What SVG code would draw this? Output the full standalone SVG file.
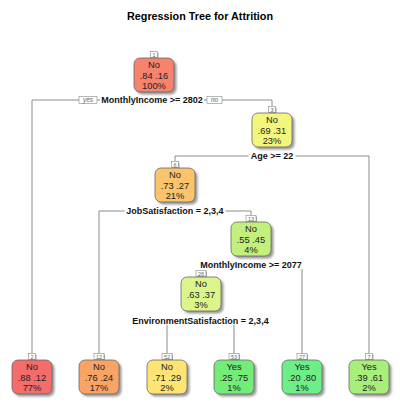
<svg xmlns="http://www.w3.org/2000/svg" width="400" height="405" viewBox="0 0 400 405">
<defs>
<filter id="sh" x="-20%" y="-20%" width="150%" height="150%"><feGaussianBlur stdDeviation="0.9"/></filter>
<style>
.title{font-family:"Liberation Sans",Arial,sans-serif;font-size:10.8px;font-weight:bold;fill:#000;text-anchor:middle}
.nt{font-family:"Liberation Sans",Arial,sans-serif;font-size:9.3px;fill:#222;text-anchor:middle}
.split{font-family:"Liberation Sans",Arial,sans-serif;font-size:9px;font-weight:bold;fill:#111;text-anchor:middle}
.lab{font-family:"Liberation Sans",Arial,sans-serif;font-size:5.5px;fill:#666;text-anchor:middle}
.yn{font-family:"Liberation Sans",Arial,sans-serif;font-size:6.5px;font-style:italic;fill:#666;text-anchor:middle}
.box{stroke:#666;stroke-width:0.8}
.shd{fill:#999;filter:url(#sh)}
.lbox{fill:#fff;stroke:#888;stroke-width:0.6}
.lshd{fill:#aaa}
.con line{stroke:#808080;stroke-width:0.9;fill:none}
</style>
</defs>
<rect width="400" height="405" fill="#fff"/>
<text class="title" x="200" y="20">Regression Tree for Attrition</text>

<g id="connectors" class="con">
<line x1="32" y1="100" x2="79" y2="100"/>
<line x1="97" y1="100" x2="100" y2="100"/>
<line x1="204" y1="100" x2="207" y2="100"/>
<line x1="222" y1="100" x2="272" y2="100"/>
<line x1="32" y1="100" x2="32" y2="353.5"/>
<line x1="272" y1="100" x2="272" y2="106"/>
<line x1="175" y1="156" x2="248.5" y2="156"/>
<line x1="295.5" y1="156" x2="369" y2="156"/>
<line x1="175" y1="156" x2="175" y2="161"/>
<line x1="369" y1="156" x2="369" y2="353.5"/>
<line x1="99" y1="211" x2="124.5" y2="211"/>
<line x1="225.5" y1="211" x2="251" y2="211"/>
<line x1="99" y1="211" x2="99" y2="353.5"/>
<line x1="251" y1="211" x2="251" y2="215"/>
<line x1="302" y1="269" x2="302" y2="353.5"/>
<line x1="167" y1="325" x2="167" y2="353.5"/>
<line x1="234" y1="325" x2="234" y2="353.5"/>
</g>

<g id="split-labels">
<rect class="lbox" x="79" y="96.5" width="18" height="7"/>
<text class="yn" x="88" y="102.2">yes</text>
<rect class="lbox" x="207" y="96.5" width="15" height="7"/>
<text class="yn" x="214.5" y="102.2">no</text>
<text class="split" x="152" y="103.2">MonthlyIncome &gt;= 2802</text>
<text class="split" x="272" y="159.2">Age &gt;= 22</text>
<text class="split" x="175" y="214.2">JobSatisfaction = 2,3,4</text>
<text class="split" x="251" y="268.2">MonthlyIncome &gt;= 2077</text>
<text class="split" x="200.5" y="324.2">EnvironmentSatisfaction = 2,3,4</text>
</g>

<g id="node1">
<rect class="lshd" x="151.5" y="52.5" width="7" height="6"/>
<rect class="lbox" x="150.5" y="51.5" width="7" height="6"/>
<text class="lab" x="154" y="56.5">1</text>
<rect class="shd" x="136.5" y="60.5" width="40" height="34" rx="6"/>
<rect class="box" x="134" y="58" width="40" height="34" rx="6" fill="#F5836E"/>
<text class="nt" x="154" y="68.2">No</text>
<text class="nt" x="154" y="78.8">.84 .16</text>
<text class="nt" x="154" y="89.3">100%</text>
</g>

<g id="node3">
<rect class="lshd" x="269.5" y="107.5" width="7" height="6"/>
<rect class="lbox" x="268.5" y="106.5" width="7" height="6"/>
<text class="lab" x="272" y="111.5">3</text>
<rect class="shd" x="254.5" y="115.5" width="40" height="34" rx="6"/>
<rect class="box" x="252" y="113" width="40" height="34" rx="6" fill="#F3F67C"/>
<text class="nt" x="272" y="123.2">No</text>
<text class="nt" x="272" y="133.8">.69 .31</text>
<text class="nt" x="272" y="144.3">23%</text>
</g>

<g id="node6">
<rect class="lshd" x="172.5" y="162.5" width="7" height="6"/>
<rect class="lbox" x="171.5" y="161.5" width="7" height="6"/>
<text class="lab" x="175" y="166.5">6</text>
<rect class="shd" x="157.5" y="170.5" width="40" height="34" rx="6"/>
<rect class="box" x="155" y="168" width="40" height="34" rx="6" fill="#FBC36C"/>
<text class="nt" x="175" y="178.2">No</text>
<text class="nt" x="175" y="188.8">.73 .27</text>
<text class="nt" x="175" y="199.3">21%</text>
</g>

<g id="node13">
<rect class="lshd" x="247" y="216.5" width="10" height="6"/>
<rect class="lbox" x="246" y="215.5" width="10" height="6"/>
<text class="lab" x="251" y="220.5">13</text>
<rect class="shd" x="233.5" y="224.5" width="40" height="34" rx="6"/>
<rect class="box" x="231" y="222" width="40" height="34" rx="6" fill="#C3F07C"/>
<text class="nt" x="251" y="232.2">No</text>
<text class="nt" x="251" y="242.8">.55 .45</text>
<text class="nt" x="251" y="253.3">4%</text>
</g>

<g id="node26">
<rect class="lshd" x="197" y="271.5" width="10" height="6"/>
<rect class="lbox" x="196" y="270.5" width="10" height="6"/>
<text class="lab" x="201" y="275.5">26</text>
<rect class="shd" x="183.5" y="279.5" width="40" height="34" rx="6"/>
<rect class="box" x="181" y="277" width="40" height="34" rx="6" fill="#DCF58A"/>
<text class="nt" x="201" y="287.2">No</text>
<text class="nt" x="201" y="297.8">.63 .37</text>
<text class="nt" x="201" y="308.3">3%</text>
</g>

<g id="leaf2">
<rect class="lshd" x="29.5" y="354.5" width="7" height="6"/>
<rect class="lbox" x="28.5" y="353.5" width="7" height="6"/>
<text class="lab" x="32" y="358.5">2</text>
<rect class="shd" x="14.5" y="362.5" width="40" height="34" rx="6"/>
<rect class="box" x="12" y="360" width="40" height="34" rx="6" fill="#F46C6C"/>
<text class="nt" x="32" y="370.2">No</text>
<text class="nt" x="32" y="380.8">.88 .12</text>
<text class="nt" x="32" y="391.3">77%</text>
</g>

<g id="leaf12">
<rect class="lshd" x="95" y="354.5" width="10" height="6"/>
<rect class="lbox" x="94" y="353.5" width="10" height="6"/>
<text class="lab" x="99" y="358.5">12</text>
<rect class="shd" x="81.5" y="362.5" width="40" height="34" rx="6"/>
<rect class="box" x="79" y="360" width="40" height="34" rx="6" fill="#F9A465"/>
<text class="nt" x="99" y="370.2">No</text>
<text class="nt" x="99" y="380.8">.76 .24</text>
<text class="nt" x="99" y="391.3">17%</text>
</g>

<g id="leaf52">
<rect class="lshd" x="163" y="354.5" width="10" height="6"/>
<rect class="lbox" x="162" y="353.5" width="10" height="6"/>
<text class="lab" x="167" y="358.5">52</text>
<rect class="shd" x="149.5" y="362.5" width="40" height="34" rx="6"/>
<rect class="box" x="147" y="360" width="40" height="34" rx="6" fill="#FDE475"/>
<text class="nt" x="167" y="370.2">No</text>
<text class="nt" x="167" y="380.8">.71 .29</text>
<text class="nt" x="167" y="391.3">2%</text>
</g>

<g id="leaf53">
<rect class="lshd" x="230" y="354.5" width="10" height="6"/>
<rect class="lbox" x="229" y="353.5" width="10" height="6"/>
<text class="lab" x="234" y="358.5">53</text>
<rect class="shd" x="216.5" y="362.5" width="40" height="34" rx="6"/>
<rect class="box" x="214" y="360" width="40" height="34" rx="6" fill="#74EC78"/>
<text class="nt" x="234" y="370.2">Yes</text>
<text class="nt" x="234" y="380.8">.25 .75</text>
<text class="nt" x="234" y="391.3">1%</text>
</g>

<g id="leaf27">
<rect class="lshd" x="298" y="354.5" width="10" height="6"/>
<rect class="lbox" x="297" y="353.5" width="10" height="6"/>
<text class="lab" x="302" y="358.5">27</text>
<rect class="shd" x="284.5" y="362.5" width="40" height="34" rx="6"/>
<rect class="box" x="282" y="360" width="40" height="34" rx="6" fill="#6DEE86"/>
<text class="nt" x="302" y="370.2">Yes</text>
<text class="nt" x="302" y="380.8">.20 .80</text>
<text class="nt" x="302" y="391.3">1%</text>
</g>

<g id="leaf7">
<rect class="lshd" x="366.5" y="354.5" width="7" height="6"/>
<rect class="lbox" x="365.5" y="353.5" width="7" height="6"/>
<text class="lab" x="369" y="358.5">7</text>
<rect class="shd" x="351.5" y="362.5" width="40" height="34" rx="6"/>
<rect class="box" x="349" y="360" width="40" height="34" rx="6" fill="#A7EE7A"/>
<text class="nt" x="369" y="370.2">Yes</text>
<text class="nt" x="369" y="380.8">.39 .61</text>
<text class="nt" x="369" y="391.3">2%</text>
</g>
</svg>
